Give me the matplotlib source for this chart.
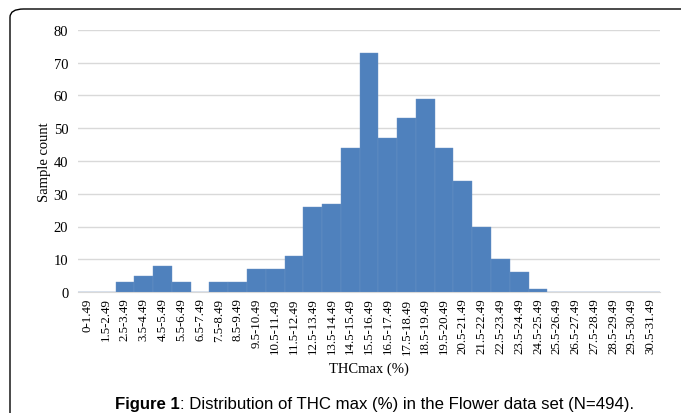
import numpy as np
import matplotlib.pyplot as plt
from matplotlib.patches import FancyBboxPatch

bins = ['0-1.49', '1.5-2.49', '2.5-3.49', '3.5-4.49', '4.5-5.49', '5.5-6.49',
        '6.5-7.49', '7.5-8.49', '8.5-9.49', '9.5-10.49', '10.5-11.49',
        '11.5-12.49', '12.5-13.49', '13.5-14.49', '14.5-15.49', '15.5-16.49',
        '16.5-17.49', '17.5-18.49', '18.5-19.49', '19.5-20.49', '20.5-21.49',
        '21.5-22.49', '22.5-23.49', '23.5-24.49', '24.5-25.49', '25.5-26.49',
        '26.5-27.49', '27.5-28.49', '28.5-29.49', '29.5-30.49', '30.5-31.49']
counts = [0, 0, 3, 5, 8, 3, 0, 3, 3, 7, 7, 11, 26, 27, 44, 73, 47, 53, 59,
          44, 34, 20, 10, 6, 1, 0, 0, 0, 0, 0, 0]
yticks = [0, 10, 20, 30, 40, 50, 60, 70, 80]

serif = 'Liberation Serif'

fig = plt.figure(figsize=(6.81, 4.14), dpi=100)
ax = fig.add_axes([78/681, 1-293/414, 582/681, 262/414])

x = np.arange(len(bins))
ax.bar(x, counts, width=1.0, color='#4F81BD', edgecolor='#6a93c6', linewidth=0.3, zorder=3)
ax.set_xlim(-0.5, len(bins)-0.5)
ax.set_ylim(0, 80)
ax.set_yticks(yticks)
ax.set_xticks(x)
ax.set_xticklabels(bins, rotation=90, fontfamily=serif, fontsize=9.3)
for lab in ax.get_yticklabels():
    lab.set_fontfamily(serif)
    lab.set_fontsize(10.5)
ax.tick_params(length=0)
ax.tick_params(axis='y', pad=7)
ax.tick_params(axis='x', pad=4)
ax.grid(axis='y', color='#d9d9d9', linewidth=1, zorder=0)
for s in ['top', 'right', 'left']:
    ax.spines[s].set_visible(False)
ax.spines['bottom'].set_color('#d9d9d9')
ax.set_ylabel('Sample count', fontfamily=serif, fontsize=10.5, labelpad=2)
ax.set_xlabel('THCmax (%)', fontfamily=serif, fontsize=10.5, labelpad=6)

# frame around the figure
box = FancyBboxPatch((10/681, -0.1), 1.2, 1-10/414+0.1,
                     boxstyle='round,pad=0,rounding_size=0.02',
                     transform=fig.transFigure, fill=False,
                     edgecolor='black', linewidth=1.0, figure=fig)
fig.patches.append(box)

# caption
fig.canvas.draw()
r = fig.canvas.get_renderer()
t1 = fig.text(115/681, 1-405/414, 'Figure 1', fontfamily='Liberation Sans',
              fontweight='bold', fontsize=12.1, va='center')
bb = t1.get_window_extent(renderer=r)
fig.text(bb.x1/681, 1-405/414, ': Distribution of THC max (%) in the Flower data set (N=494).',
         fontfamily='Liberation Sans', fontsize=12.1, va='center')

fig.savefig('out.png', dpi=100)
